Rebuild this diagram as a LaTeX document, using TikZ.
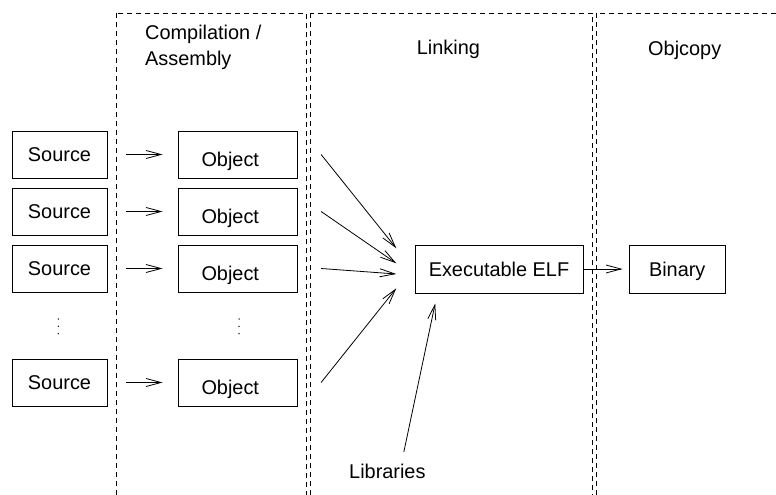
\documentclass[tikz,border=0pt]{standalone}
\usepackage{fontspec}
\setmainfont{Liberation Sans}
\usetikzlibrary{arrows.meta,calc}
\tikzset{
  box/.style={draw, line width=0.8bp, rectangle, inner sep=0pt, text depth=0pt, minimum height=47bp},
  srcbox/.style={box, minimum width=95bp},
  objbox/.style={box, minimum width=119bp},
  lbl/.style={inner sep=0pt},
  arr/.style={line width=0.8bp, -{Straight Barb[length=15bp,width=8bp,line width=0.8bp]}},
  frame/.style={line width=0.8bp, dash pattern=on 5bp off 4bp},
}
\begin{document}
\begin{tikzpicture}[x=1bp,y=-1bp,font=\fontsize{19.9bp}{24bp}\selectfont]
\useasboundingbox (0,0) rectangle (776,495);
\begin{scope}
  \clip (0,0) rectangle (776,495);
  \draw[frame] (116.7,13) rectangle (306,520);
  \draw[frame] (310,13) rectangle (592.3,520);
  \draw[frame] (596,13) rectangle (800,520);
\end{scope}

% column titles
\node[lbl, anchor=base west] (comp) at (145,40) {Compilation /};
\node[lbl, anchor=base west] (asm) at (145,65.7) {Assembly};
\node[lbl, anchor=base west] (link) at (416.7,55) {Linking};
\node[lbl, anchor=base west] (objc) at (648,56) {Objcopy};

% sources
\node[srcbox] (s1) at (59.5,154.5) {Source};
\node[srcbox] (s2) at (59.5,211.5) {Source};
\node[srcbox] (s3) at (59.5,268.5) {Source};
\node[srcbox] (s4) at (59.5,382.5) {Source};

% objects
\foreach \i/\y in {1/154.5,2/211.5,3/268.5,4/382.5}{
  \node[objbox] (o\i) at (237.5,\y) {};
  \node[lbl, anchor=base west] (t\i) at ($(o\i.south west)+(23.7,-12)$) {Object};
}

% dots
\foreach \x in {58.3,239}{
  \foreach \y in {319,326.3,333.6}{
    \fill (\x,\y) circle (0.75bp);
  }
}

% ELF and binary
\node[box, minimum width=168bp, minimum height=48bp] (elf) at (499,269) {Executable ELF};
\node[box, minimum width=96bp, minimum height=48bp] (bin) at (677.2,269) {Binary};
\node[lbl, anchor=base west] (lib) at (349,478) {Libraries};

% arrows source -> object
\foreach \i in {1,2,3,4}{
  \draw[arr, shorten <=19bp, shorten >=15bp] (s\i) -- (o\i);
}

% arrows object -> ELF
\draw[arr] ($(o1.east)+(23.7,0)$) -- ($(elf.west)+(-18.3,-20.7)$);
\draw[arr] ($(o2.east)+(23.7,0)$) -- ($(elf.west)+(-18.3,-5.7)$);
\draw[arr] ($(o3.east)+(23.7,0)$) -- ($(elf.west)+(-18.3,5)$);
\draw[arr] ($(o4.east)+(23.7,0)$) -- ($(elf.west)+(-18.3,19.3)$);

% libraries -> ELF
\draw[arr] ($(lib.north)+(16.5,-11.6)$) -- ($(elf.south)+(-63.8,10)$);

% ELF -> binary
\draw[arr, shorten >=6.3bp] (elf.east) -- (bin.west);
\end{tikzpicture}
\end{document}
